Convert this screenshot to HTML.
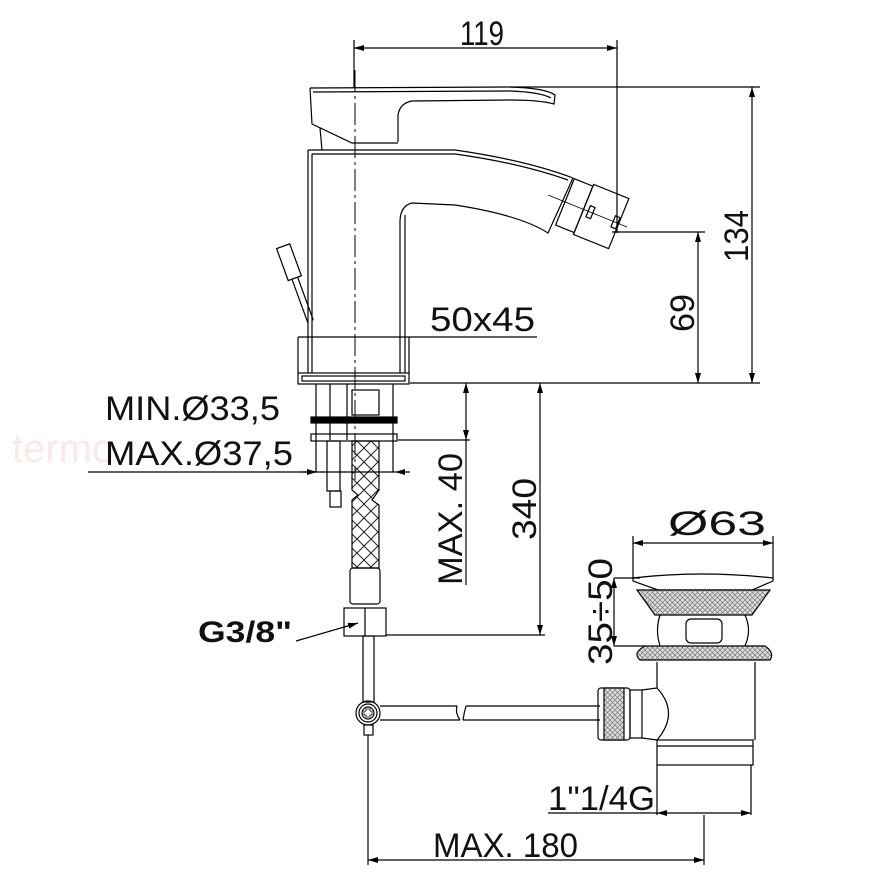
<!DOCTYPE html>
<html><head><meta charset="utf-8"><style>
html,body{margin:0;padding:0;background:#fff;}
svg{display:block;}
text{font-family:"Liberation Sans","DejaVu Sans",sans-serif;fill:#111;}
</style></head><body>
<svg width="875" height="889" viewBox="0 0 875 889" xmlns="http://www.w3.org/2000/svg">
<defs>
<marker id="a" viewBox="0 0 10 6" refX="10" refY="3" markerWidth="10" markerHeight="6" orient="auto-start-reverse" markerUnits="userSpaceOnUse"><path d="M0,0 L10,3 L0,6 z" fill="#000"/></marker>
<pattern id="h" width="5" height="5" patternUnits="userSpaceOnUse"><rect width="5" height="5" fill="#ddd"/><path d="M0,5 L5,0 M0,0 L5,5" stroke="#777" stroke-width="0.7"/></pattern>
<pattern id="x" width="14" height="14" patternUnits="userSpaceOnUse"><path d="M0,14 L14,0 M0,0 L14,14" stroke="#222" stroke-width="1"/></pattern>
</defs>
<text x="12" y="462" font-size="40" style="fill:#fbe8e8">termo</text>
<g stroke="#000" stroke-width="1.2" fill="none">
<line x1="354" y1="40" x2="354" y2="88"/>
<line x1="617" y1="40" x2="617" y2="233"/>
<line x1="354" y1="48" x2="617" y2="48" marker-start="url(#a)" marker-end="url(#a)"/>
<line x1="510" y1="87" x2="760" y2="87"/>
<line x1="410" y1="383" x2="760" y2="383"/>
<line x1="752" y1="87" x2="752" y2="383" marker-start="url(#a)" marker-end="url(#a)"/>
<line x1="612" y1="232" x2="705" y2="232"/>
<line x1="698" y1="232" x2="698" y2="383" marker-start="url(#a)" marker-end="url(#a)"/>
<line x1="355" y1="70" x2="355" y2="480" stroke-dasharray="22,4,3,4" stroke-width="1"/>
<path d="M310,88 L510,87 Q545,88 555,95 L554,104 Q540,100 510,100 L412,101 Q400,103 398,115 L398,142"/>
<path d="M313,92 L510,91 Q540,92 551,98"/>
<path d="M310,88 L312,124 L352,143 L398,143"/>
<path d="M320,128 L322,150"/>
<path d="M308,150 L455,150 Q525,160 573,178 L548,233 Q520,215 455,205 L412,203 Q400,206 400,222 L400,373"/>
<path d="M312,154 L455,154 Q520,163 568,180"/>
<path d="M405,215 L405,373"/>
<line x1="308" y1="150" x2="308" y2="373"/>
<line x1="312" y1="154" x2="312" y2="373"/>
<g transform="translate(590,212) rotate(22)">
<rect x="-27" y="-25" width="20" height="50"/>
<rect x="-7" y="-27" width="38" height="54"/>
<line x1="-45" y1="0" x2="40" y2="0" stroke-width="0.8"/>
<rect x="-2" y="-6" width="5" height="12"/>
<rect x="25" y="-6" width="5" height="12"/>
</g>
<g transform="translate(290,265) rotate(-20)">
<rect x="-7" y="-20" width="14" height="34"/>
<line x1="-3" y1="14" x2="-3" y2="60"/><line x1="3" y1="14" x2="3" y2="60"/>
</g>
<line x1="298" y1="337" x2="298" y2="373"/>
<line x1="409" y1="337" x2="409" y2="373"/>
<line x1="298" y1="337" x2="537" y2="337"/>
<rect x="298" y="373" width="111" height="11"/>
<rect x="302" y="376" width="103" height="5"/>
<line x1="316" y1="384" x2="316" y2="472"/>
<line x1="330" y1="384" x2="330" y2="440"/>
<line x1="347" y1="384" x2="347" y2="440"/>
<line x1="393" y1="384" x2="393" y2="472"/>
<rect x="352" y="390" width="27" height="25"/>
<rect x="311" y="417" width="86" height="6" fill="#000"/>
<rect x="311" y="434" width="86" height="7"/>
<rect x="327" y="441" width="13" height="50"/>
<rect x="330" y="491" width="11" height="16"/>
<path d="M352,441 L379,441 L379,490 L372,500 L379,505 L379,568 L352,568 L352,500 L358,495 L352,490 Z" fill="url(#x)"/>
<rect x="350" y="568" width="30" height="36" rx="3"/>
<rect x="344" y="608" width="42" height="28"/>
<line x1="365" y1="608" x2="365" y2="636"/>
<rect x="363" y="636" width="11" height="66"/>
<circle cx="368" cy="713" r="12"/><circle cx="368" cy="713" r="9"/><circle cx="368" cy="713" r="6"/>
<path d="M366,709 h4 v2 h2 v4 h-2 v2 h-4 v-2 h-2 v-4 h2 z" stroke-width="0.8"/>
<rect x="364" y="725" width="9" height="10"/>
<line x1="368" y1="735" x2="368" y2="865"/>
<path d="M380,706 L457,706 M380,720 L460,720 M466,706 L600,706 M463,720 L600,720"/>
<path d="M457,706 Q455,713 460,720 M466,706 Q464,713 463,720"/>
<line x1="398" y1="440" x2="470" y2="440"/>
<line x1="386" y1="635" x2="545" y2="635"/>
<line x1="466" y1="383" x2="466" y2="440" marker-start="url(#a)" marker-end="url(#a)"/>
<line x1="466" y1="440" x2="466" y2="585"/>
<line x1="540" y1="383" x2="540" y2="635" marker-start="url(#a)" marker-end="url(#a)"/>
<line x1="88" y1="472" x2="395" y2="472"/>
<line x1="300" y1="472" x2="317" y2="472" marker-end="url(#a)"/>
<line x1="410" y1="472" x2="395" y2="472" marker-end="url(#a)"/>
<line x1="296" y1="641" x2="358" y2="623" marker-end="url(#a)"/>
<line x1="633" y1="536" x2="633" y2="578"/>
<line x1="773" y1="536" x2="773" y2="578"/>
<line x1="633" y1="543" x2="773" y2="543" marker-start="url(#a)" marker-end="url(#a)"/>
<path d="M633,578 Q700,570 773,578 L773,581 L752,590 L658,590 L633,581 Z"/>
<path d="M637,590 L770,590 L752,615 L655,615 Z" fill="url(#h)"/>
<path d="M660,615 Q655,630 660,646 M745,615 Q752,630 745,646"/>
<rect x="686" y="619" width="36" height="24" rx="5"/>
<path d="M645,646 L765,646 Q775,653 770,660 L640,660 Q632,653 645,646 Z" fill="url(#h)"/>
<line x1="614" y1="578" x2="640" y2="578"/><line x1="614" y1="646" x2="645" y2="646"/>
<line x1="614" y1="578" x2="614" y2="646" marker-start="url(#a)" marker-end="url(#a)"/>
<path d="M657,662 L657,688 L642,690 M657,688 Q680,713 657,740 L642,738 M755,662 L755,740"/>
<rect x="657" y="740" width="96" height="25"/>
<line x1="657" y1="746" x2="753" y2="746"/>
<line x1="657" y1="765" x2="657" y2="815"/><line x1="751" y1="765" x2="751" y2="815"/>
<rect x="630" y="690" width="12" height="48"/>
<rect x="598" y="688" width="32" height="52" rx="3"/>
<rect x="604" y="688" width="20" height="52" fill="url(#h)"/>
<line x1="548" y1="813" x2="657" y2="813"/>
<line x1="657" y1="813" x2="751" y2="813" marker-start="url(#a)" marker-end="url(#a)"/>
<line x1="704" y1="815" x2="704" y2="865"/>
<line x1="368" y1="860" x2="704" y2="860" marker-start="url(#a)" marker-end="url(#a)"/>
</g>
<g font-size="34">
<text x="460" y="45" textLength="44" lengthAdjust="spacingAndGlyphs">119</text>
<text transform="translate(748,262) rotate(-90)" textLength="52" lengthAdjust="spacingAndGlyphs">134</text>
<text transform="translate(694,332) rotate(-90)" textLength="38" lengthAdjust="spacingAndGlyphs">69</text>
<text x="430" y="331" textLength="105" lengthAdjust="spacingAndGlyphs">50x45</text>
<text x="105" y="420" textLength="175" lengthAdjust="spacingAndGlyphs">MIN.Ø33,5</text>
<text x="105" y="465" textLength="188" lengthAdjust="spacingAndGlyphs">MAX.Ø37,5</text>
<text transform="translate(462,585) rotate(-90)" textLength="132" lengthAdjust="spacingAndGlyphs">MAX. 40</text>
<text transform="translate(536,540) rotate(-90)" textLength="62" lengthAdjust="spacingAndGlyphs">340</text>
<text x="668" y="535" textLength="98" lengthAdjust="spacingAndGlyphs">Ø63</text>
<text transform="translate(612,665) rotate(-90)" textLength="107" lengthAdjust="spacingAndGlyphs">35÷50</text>
<text x="548" y="810" textLength="107" lengthAdjust="spacingAndGlyphs">1"1/4G</text>
<text x="433" y="857" textLength="145" lengthAdjust="spacingAndGlyphs">MAX. 180</text>
<text x="198" y="642" font-weight="bold" font-size="30" textLength="94" lengthAdjust="spacingAndGlyphs">G3/8"</text>
</g>
</svg>
</body></html>
